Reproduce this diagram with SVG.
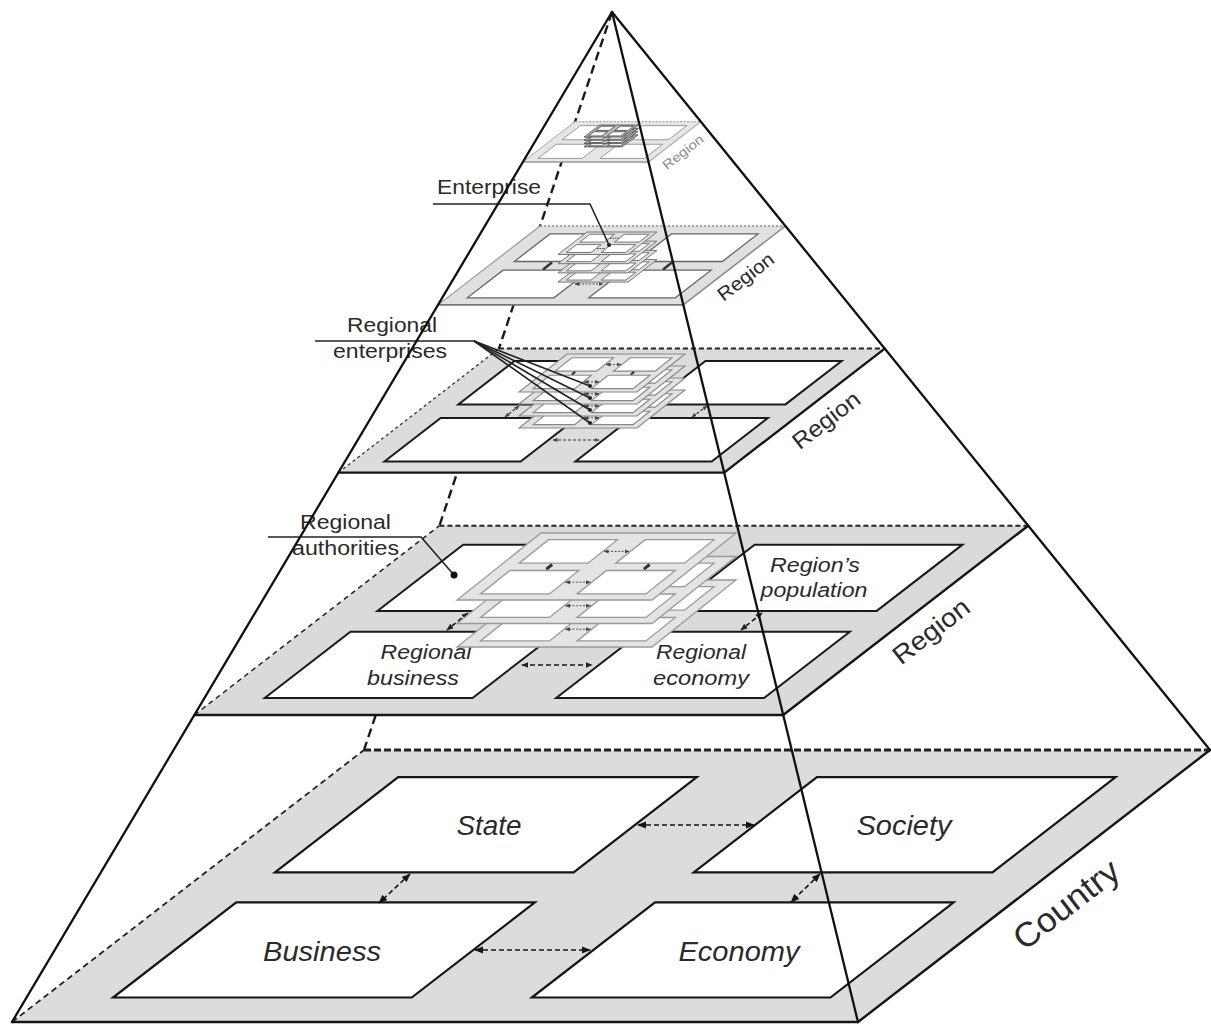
<svg xmlns="http://www.w3.org/2000/svg" xmlns:xlink="http://www.w3.org/1999/xlink" width="1211" height="1025" viewBox="0 0 1211 1025">
<style>
.t{font-family:"Liberation Sans",Arial,Helvetica,sans-serif;fill:#2a2a2a}
.it{font-style:italic}
.edge{stroke:#151515;stroke-width:2.4;fill:none;stroke-linecap:round}
.q0{fill:#fff;stroke:#151515;stroke-width:2.2}
.q1{fill:#fff;stroke:#1a1a1a;stroke-width:2}
.q3{fill:#fff;stroke:#666;stroke-width:1.3}
.q4{fill:#fff;stroke:#999;stroke-width:1}
.dash-back{stroke:#222;stroke-width:2;stroke-dasharray:5 3;fill:none}
.dash-left{stroke:#222;stroke-width:1.5;stroke-dasharray:5 4;fill:none}
.conn{stroke:#151515;stroke-width:1.6;stroke-dasharray:5 3;fill:none}
.conn-s{stroke:#333;stroke-width:1.2;stroke-dasharray:3 2;fill:none}
.conn-xs{stroke:#555;stroke-width:1;stroke-dasharray:2 1.5;fill:none}
.mark{stroke:#333;stroke-width:3;fill:none}
.ptr{stroke:#222;stroke-width:1.6;fill:none}
.pyr{stroke:#111;stroke-width:2.3;fill:none;stroke-linecap:round}
</style>
<defs>
<marker id="ah" viewBox="0 0 10 10" refX="9" refY="5" markerWidth="9" markerHeight="9" markerUnits="userSpaceOnUse" orient="auto-start-reverse"><path d="M0,1 L10,5 L0,9 z" fill="#151515"/></marker>
<marker id="ahm" viewBox="0 0 10 10" refX="9" refY="5" markerWidth="7" markerHeight="7" markerUnits="userSpaceOnUse" orient="auto-start-reverse"><path d="M0,1 L10,5 L0,9 z" fill="#222"/></marker>
<marker id="ahs" viewBox="0 0 10 10" refX="9" refY="5" markerWidth="5" markerHeight="5" markerUnits="userSpaceOnUse" orient="auto-start-reverse"><path d="M0,1 L10,5 L0,9 z" fill="#444"/></marker>
<polygon id="plate" points="0,0 1,0 1,1 0,1" vector-effect="non-scaling-stroke"/>
<polygon id="qbl" points="0.082,0.09 0.435,0.09 0.435,0.44 0.082,0.44" vector-effect="non-scaling-stroke"/>
<polygon id="qbr" points="0.577,0.09 0.93,0.09 0.93,0.44 0.577,0.44" vector-effect="non-scaling-stroke"/>
<polygon id="qtl" points="0.082,0.55 0.435,0.55 0.435,0.9 0.082,0.9" vector-effect="non-scaling-stroke"/>
<polygon id="qtr" points="0.577,0.55 0.93,0.55 0.93,0.9 0.577,0.9" vector-effect="non-scaling-stroke"/>
<g id="sub">
<use href="#plate"/>
<use href="#qbl" fill="#fff"/><use href="#qbr" fill="#fff"/><use href="#qtl" fill="#fff"/><use href="#qtr" fill="#fff"/>
</g>
</defs>
<rect width="1211" height="1025" fill="#fff"/>

<!-- hidden back edge of the pyramid -->
<line id="hidden-edge" x1="612" y1="12" x2="364" y2="750" stroke="#1a1a1a" stroke-width="2.4" stroke-dasharray="9 5"/>

<!-- ============ COUNTRY LAYER ============ -->
<g id="country">
<use href="#plate" transform="matrix(846 0 352 -272 12 1022)" fill="#dcdcdc"/>
<line x1="364" y1="750" x2="1210" y2="750" stroke="#222" stroke-width="3" stroke-dasharray="7 3"/>
<line x1="12" y1="1022" x2="364" y2="750" stroke="#222" stroke-width="1.8" stroke-dasharray="6 4"/>
<line x1="12" y1="1022" x2="858" y2="1022" class="edge"/>
<line x1="858" y1="1022" x2="1210" y2="750" class="edge"/>
</g>
<g id="state"><use href="#qtl" transform="matrix(846 0 352 -272 12 1022)" class="q0"/><text class="t it" x="489" y="835" font-size="28" text-anchor="middle" textLength="65" lengthAdjust="spacingAndGlyphs">State</text></g>
<g id="society"><use href="#qtr" transform="matrix(846 0 352 -272 12 1022)" class="q0"/><text class="t it" x="904" y="835" font-size="28" text-anchor="middle" textLength="95" lengthAdjust="spacingAndGlyphs">Society</text></g>
<g id="business"><use href="#qbl" transform="matrix(846 0 352 -272 12 1022)" class="q0"/><text class="t it" x="322" y="961" font-size="28" text-anchor="middle" textLength="118" lengthAdjust="spacingAndGlyphs">Business</text></g>
<g id="economy"><use href="#qbr" transform="matrix(846 0 352 -272 12 1022)" class="q0"/><text class="t it" x="739" y="961" font-size="28" text-anchor="middle" textLength="121" lengthAdjust="spacingAndGlyphs">Economy</text></g>

<!-- ============ REGION LAYER 1 ============ -->
<g id="region-1">
<use href="#plate" transform="matrix(588.8 0 245 -189.3 194.4 715)" fill="#dadada"/>
<line x1="439.4" y1="525.7" x2="1028.2" y2="525.7" class="dash-back"/>
<line x1="194.4" y1="715" x2="439.4" y2="525.7" class="dash-left"/>
<line x1="194.4" y1="715" x2="783.2" y2="715" class="edge"/>
<line x1="783.2" y1="715" x2="1028.2" y2="525.7" class="edge"/>
</g>
<g id="regional-authorities-area"><use href="#qtl" transform="matrix(588.8 0 245 -189.3 194.4 715)" class="q1"/></g>
<g id="regions-population"><use href="#qtr" transform="matrix(588.8 0 245 -189.3 194.4 715)" class="q1"/>
<text class="t it" x="815" y="572" font-size="20" text-anchor="middle" textLength="90" lengthAdjust="spacingAndGlyphs">Region’s</text>
<text class="t it" x="814" y="597" font-size="20" text-anchor="middle" textLength="107" lengthAdjust="spacingAndGlyphs">population</text></g>
<g id="regional-business"><use href="#qbl" transform="matrix(588.8 0 245 -189.3 194.4 715)" class="q1"/>
<text class="t it" x="426" y="659" font-size="20" text-anchor="middle" textLength="91" lengthAdjust="spacingAndGlyphs">Regional</text>
<text class="t it" x="413" y="685" font-size="20" text-anchor="middle" textLength="92" lengthAdjust="spacingAndGlyphs">business</text></g>
<g id="regional-economy"><use href="#qbr" transform="matrix(588.8 0 245 -189.3 194.4 715)" class="q1"/>
<text class="t it" x="701" y="659" font-size="20" text-anchor="middle" textLength="90" lengthAdjust="spacingAndGlyphs">Regional</text>
<text class="t it" x="701" y="685" font-size="20" text-anchor="middle" textLength="96" lengthAdjust="spacingAndGlyphs">economy</text></g>

<!-- ============ REGION LAYER 2 ============ -->
<g id="region-2">
<use href="#plate" transform="matrix(385.8 0 160.5 -124 338.4 472.6)" fill="#dcdcdc"/>
<line x1="498.9" y1="348.6" x2="884.7" y2="348.6" class="dash-back"/>
<line x1="338.4" y1="472.6" x2="498.9" y2="348.6" stroke="#333" stroke-width="1.3" stroke-dasharray="3 3"/>
<line x1="338.4" y1="472.6" x2="724.2" y2="472.6" class="edge"/>
<line x1="724.2" y1="472.6" x2="884.7" y2="348.6" class="edge"/>
<use href="#qtl" transform="matrix(385.8 0 160.5 -124 338.4 472.6)" class="q1"/>
<use href="#qtr" transform="matrix(385.8 0 160.5 -124 338.4 472.6)" class="q1"/>
<use href="#qbl" transform="matrix(385.8 0 160.5 -124 338.4 472.6)" class="q1"/>
<use href="#qbr" transform="matrix(385.8 0 160.5 -124 338.4 472.6)" class="q1"/>
</g>

<!-- ============ ENTERPRISE LAYER ============ -->
<g id="region-3">
<use href="#plate" transform="matrix(245.3 0 102.1 -78.9 438 304.9)" fill="#e0e0e0"/>
<line x1="540.1" y1="226" x2="785.4" y2="226" stroke="#888" stroke-width="1.5" stroke-dasharray="2 2"/>
<line x1="438" y1="304.9" x2="540.1" y2="226" stroke="#999" stroke-width="1.2"/>
<line x1="438" y1="304.9" x2="683.3" y2="304.9" stroke="#777" stroke-width="1.8"/>
<line x1="683.3" y1="304.9" x2="785.4" y2="226" stroke="#888" stroke-width="1.5"/>
<use href="#qtl" transform="matrix(245.3 0 102.1 -78.9 438 304.9)" class="q3"/>
<use href="#qtr" transform="matrix(245.3 0 102.1 -78.9 438 304.9)" class="q3"/>
<use href="#qbl" transform="matrix(245.3 0 102.1 -78.9 438 304.9)" class="q3"/>
<use href="#qbr" transform="matrix(245.3 0 102.1 -78.9 438 304.9)" class="q3"/>
</g>

<!-- ============ TOP LAYER ============ -->
<g id="region-4">
<use href="#plate" transform="matrix(125.6 0 52.3 -40.4 522.9 162)" fill="#e6e6e6"/>
<line x1="575.2" y1="121.6" x2="700.8" y2="121.6" stroke="#aaa" stroke-width="1.2" stroke-dasharray="2 1.5"/>
<line x1="522.9" y1="162" x2="575.2" y2="121.6" stroke="#aaa" stroke-width="1"/>
<line x1="522.9" y1="162" x2="648.5" y2="162" stroke="#999" stroke-width="1.4"/>
<line x1="648.5" y1="162" x2="700.8" y2="121.6" stroke="#aaa" stroke-width="1.2"/>
<use href="#qtl" transform="matrix(125.6 0 52.3 -40.4 522.9 162)" class="q4"/>
<use href="#qtr" transform="matrix(125.6 0 52.3 -40.4 522.9 162)" class="q4"/>
<use href="#qbl" transform="matrix(125.6 0 52.3 -40.4 522.9 162)" class="q4"/>
<use href="#qbr" transform="matrix(125.6 0 52.3 -40.4 522.9 162)" class="q4"/>
</g>

<!-- ============ CONNECTORS ============ -->
<g id="connectors">
<line x1="638" y1="825" x2="754" y2="825" class="conn" marker-start="url(#ah)" marker-end="url(#ah)"/>
<line x1="475" y1="950" x2="590" y2="950" class="conn" marker-start="url(#ah)" marker-end="url(#ah)"/>
<line x1="410" y1="874" x2="379" y2="903" class="conn" marker-start="url(#ah)" marker-end="url(#ah)"/>
<line x1="820" y1="874" x2="791" y2="902" class="conn" marker-start="url(#ah)" marker-end="url(#ah)"/>
<line x1="522" y1="665" x2="592" y2="665" class="conn" marker-start="url(#ahm)" marker-end="url(#ahm)"/>
<line x1="762" y1="613" x2="741" y2="630" class="conn" marker-start="url(#ahm)" marker-end="url(#ahm)"/>
<line x1="468" y1="613" x2="447" y2="630" class="conn" marker-start="url(#ahm)" marker-end="url(#ahm)"/>
<line x1="553" y1="440" x2="599" y2="440" class="conn-s" marker-start="url(#ahs)" marker-end="url(#ahs)"/>
<line x1="519" y1="406" x2="505" y2="417" class="conn-s" marker-start="url(#ahs)" marker-end="url(#ahs)"/>
<line x1="707" y1="406" x2="692" y2="417" class="conn-s" marker-start="url(#ahs)" marker-end="url(#ahs)"/>
<line x1="575" y1="284" x2="603" y2="284" class="conn-xs" marker-start="url(#ahs)" marker-end="url(#ahs)"/>
<line x1="552" y1="262.5" x2="543" y2="269.5" stroke="#333" stroke-width="2.5"/>
<line x1="672" y1="262.5" x2="663" y2="269.5" stroke="#333" stroke-width="2.5"/>
</g>

<!-- ============ SUB-LAYER STACKS ============ -->
<g id="regional-authorities-stack">
<use href="#sub" transform="matrix(195 0 84 -67 457 647)" fill="#e4e4e4" stroke="#999" stroke-width="1.3"/>
<line x1="565.5" y1="629.2" x2="590.5" y2="629.2" class="conn-xs" marker-start="url(#ahs)" marker-end="url(#ahs)"/>
<use href="#sub" transform="matrix(195 0 84 -67 457 623.5)" fill="#e4e4e4" stroke="#999" stroke-width="1.3"/>
<line x1="565.5" y1="605.7" x2="590.5" y2="605.7" class="conn-xs" marker-start="url(#ahs)" marker-end="url(#ahs)"/>
<use href="#sub" transform="matrix(195 0 84 -67 457 600)" fill="#e4e4e4" stroke="#999" stroke-width="1.3"/>
<line x1="565.5" y1="582.2" x2="590.5" y2="582.2" class="conn-xs" marker-start="url(#ahs)" marker-end="url(#ahs)"/>
<line x1="604" y1="551.4" x2="629" y2="551.4" class="conn-xs" marker-start="url(#ahs)" marker-end="url(#ahs)"/>
<line x1="546.3" y1="569.2" x2="552.2" y2="564.5" class="mark"/>
<line x1="643.8" y1="569.2" x2="649.7" y2="564.5" class="mark"/>
</g>
<g id="regional-enterprises-stack">
<use href="#sub" transform="matrix(118 0 48 -38 519 428)" fill="#e2e2e2" stroke="#888" stroke-width="1.1"/>
<line x1="584" y1="417.9" x2="599" y2="417.9" class="conn-xs" marker-start="url(#ahs)" marker-end="url(#ahs)"/>
<use href="#sub" transform="matrix(118 0 48 -38 519 416)" fill="#e2e2e2" stroke="#888" stroke-width="1.1"/>
<line x1="584" y1="405.9" x2="599" y2="405.9" class="conn-xs" marker-start="url(#ahs)" marker-end="url(#ahs)"/>
<use href="#sub" transform="matrix(118 0 48 -38 519 404)" fill="#e2e2e2" stroke="#888" stroke-width="1.1"/>
<line x1="584" y1="393.9" x2="599" y2="393.9" class="conn-xs" marker-start="url(#ahs)" marker-end="url(#ahs)"/>
<use href="#sub" transform="matrix(118 0 48 -38 519 392)" fill="#e2e2e2" stroke="#888" stroke-width="1.1"/>
<line x1="584" y1="381.9" x2="599" y2="381.9" class="conn-xs" marker-start="url(#ahs)" marker-end="url(#ahs)"/>
<line x1="606" y1="364.5" x2="621" y2="364.5" class="conn-xs" marker-start="url(#ahs)" marker-end="url(#ahs)"/>
<line x1="571.8" y1="374.5" x2="575.2" y2="371.9" stroke="#333" stroke-width="2.2"/>
<line x1="630.8" y1="374.5" x2="634.2" y2="371.9" stroke="#333" stroke-width="2.2"/>
</g>
<g id="enterprise-stack">
<use href="#sub" transform="matrix(70 0 29 -22.5 558 282.1)" fill="#dedede" stroke="#777" stroke-width="1"/>
<use href="#sub" transform="matrix(70 0 29 -22.5 558 272.9)" fill="#dedede" stroke="#777" stroke-width="1"/>
<use href="#sub" transform="matrix(70 0 29 -22.5 558 263.7)" fill="#dedede" stroke="#777" stroke-width="1"/>
<use href="#sub" transform="matrix(70 0 29 -22.5 558 254.5)" fill="#dedede" stroke="#777" stroke-width="1"/>
<line x1="597" y1="248.5" x2="605" y2="248.5" stroke="#444" stroke-width="1" stroke-dasharray="1.5 1"/>
<line x1="610" y1="238.2" x2="619" y2="238.2" stroke="#444" stroke-width="1" stroke-dasharray="1.5 1"/>
</g>
<g id="top-stack">
<use href="#sub" transform="matrix(38 0 16 -12 584 146.9)" fill="#bbb" stroke="#444" stroke-width="0.8"/>
<use href="#sub" transform="matrix(38 0 16 -12 584 143.6)" fill="#bbb" stroke="#444" stroke-width="0.8"/>
<use href="#sub" transform="matrix(38 0 16 -12 584 140.3)" fill="#bbb" stroke="#444" stroke-width="0.8"/>
<use href="#sub" transform="matrix(38 0 16 -12 584 137)" fill="#bbb" stroke="#444" stroke-width="0.8"/>
</g>

<!-- ============ CALLOUT LABELS ============ -->
<g id="label-enterprise">
<text class="t" x="437" y="194" font-size="20" textLength="104" lengthAdjust="spacingAndGlyphs">Enterprise</text>
<polyline points="433,204 590,204 609,245" class="ptr"/>
<circle cx="609" cy="245" r="2" fill="#222"/>
</g>
<g id="label-regional-enterprises">
<text class="t" x="347" y="332" font-size="20" textLength="90" lengthAdjust="spacingAndGlyphs">Regional</text>
<text class="t" x="333" y="358" font-size="20" textLength="114" lengthAdjust="spacingAndGlyphs">enterprises</text>
<line x1="315" y1="341" x2="474" y2="341" class="ptr"/>
<line x1="474" y1="341" x2="590" y2="386" class="ptr"/>
<line x1="474" y1="341" x2="590" y2="398" class="ptr"/>
<line x1="474" y1="341" x2="590" y2="410" class="ptr"/>
<line x1="474" y1="341" x2="590" y2="423" class="ptr"/>
<circle cx="590" cy="386" r="2" fill="#222"/><circle cx="590" cy="398" r="2" fill="#222"/>
<circle cx="590" cy="410" r="2" fill="#222"/><circle cx="590" cy="423" r="2" fill="#222"/>
</g>
<g id="label-regional-authorities">
<text class="t" x="300" y="529" font-size="20" textLength="91" lengthAdjust="spacingAndGlyphs">Regional</text>
<text class="t" x="292" y="555" font-size="20" textLength="107" lengthAdjust="spacingAndGlyphs">authorities</text>
<polyline points="268,537 421,537 454,575" class="ptr"/>
<circle cx="454" cy="575" r="3.5" fill="#111"/>
</g>

<!-- ============ PYRAMID EDGES ============ -->
<g id="pyramid">
<line x1="612" y1="12" x2="12" y2="1022" class="pyr"/>
<line x1="612" y1="12" x2="858" y2="1022" class="pyr"/>
<line x1="612" y1="12" x2="1210" y2="750" class="pyr"/>
</g>

<!-- ============ LEVEL LABELS ============ -->
<g id="level-labels">
<text class="t" transform="translate(1066,904) rotate(-37.7)" y="12" font-size="34" text-anchor="middle" textLength="124" lengthAdjust="spacingAndGlyphs">Country</text>
<text class="t" transform="translate(931,631) rotate(-37.7)" y="9" font-size="26" text-anchor="middle" textLength="90" lengthAdjust="spacingAndGlyphs">Region</text>
<text class="t" transform="translate(826,420) rotate(-37.7)" y="8" font-size="23" text-anchor="middle" textLength="79" lengthAdjust="spacingAndGlyphs">Region</text>
<text class="t" transform="translate(746,277) rotate(-37.7)" y="6" font-size="19" text-anchor="middle" textLength="66" lengthAdjust="spacingAndGlyphs" fill="#444">Region</text>
<text class="t" transform="translate(683,152) rotate(-37.7)" y="4.5" font-size="13" text-anchor="middle" textLength="48" lengthAdjust="spacingAndGlyphs" style="fill:#8a8a8a">Region</text>
</g>
</svg>
